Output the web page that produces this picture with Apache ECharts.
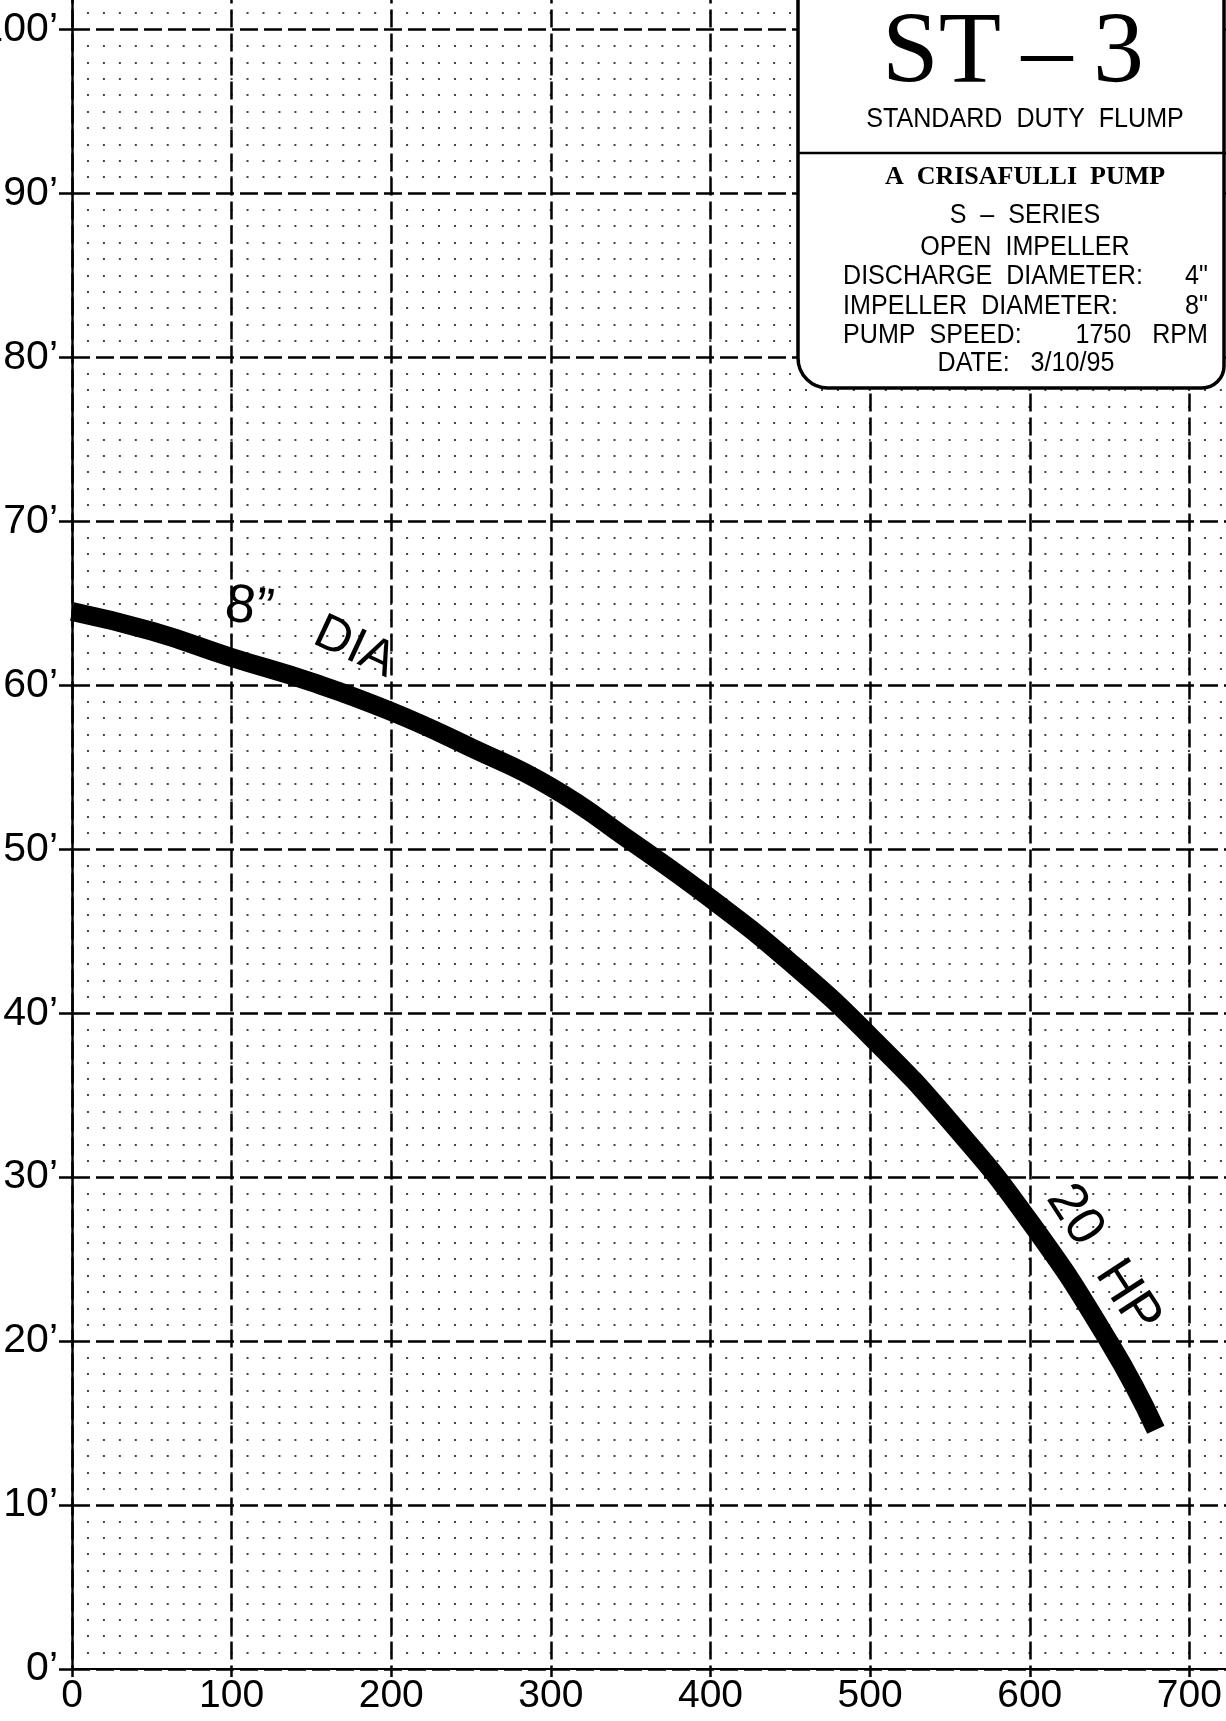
<!DOCTYPE html>
<html>
<head>
<meta charset="utf-8">
<script src="https://cdn.jsdelivr.net/npm/echarts@6/dist/echarts.min.js"></script>
<style>
  html, body { margin: 0; padding: 0; background: #fff; overflow: hidden; width: 1226px; height: 1721px; }
  /* the sheet is a crop: chart is a bit larger than the window, so the axes run past the edges */
  #chart { position: absolute; left: 0; top: -140px; width: 1349px; height: 1861px; }
</style>
</head>
<body>
<div id="chart"></div>
<script>
// flow (gpm) vs total head (feet)
const flow = [0, 50, 100, 150, 200, 250, 300, 350, 400, 450, 500, 550, 600, 650, 679];
const head = [64.5, 63.3, 61.7, 60.2, 58.4, 56.2, 53.8, 50.5, 47.0, 43.1, 38.6, 33.4, 27.3, 19.9, 14.6];

const flowTicks = [0, 100, 200, 300, 400, 500, 600, 700];
const headTicks = [0, 10, 20, 30, 40, 50, 60, 70, 80, 90, 100];

// curve labels, anchored in data units [flow, head]
const curveLabels = [
    { text: '8\u201d', at: [111, 64.7], rot: -8, size: 54 },
    { text: 'DIA', at: [177, 62.3], rot: -25, size: 50 },
    { text: '20  HP', at: [646, 25.0], rot: -57, size: 54 }
];

const boxTitle = 'ST\u2009\u2013\u20093';
const boxSubtitle = 'STANDARD  DUTY  FLUMP';
const boxMaker = 'A  CRISAFULLI  PUMP';
const boxCentered = ['S  \u2013  SERIES', 'OPEN  IMPELLER'];
const boxPairs = [
    ['DISCHARGE  DIAMETER:', '4"'],
    ['IMPELLER  DIAMETER:', '8"'],
    ['PUMP  SPEED:', '1750   RPM']
];
const boxDate = 'DATE:   3/10/95';

const SANS = '"Liberation Sans", Arial, sans-serif';
const SERIF = '"Liberation Serif", "Times New Roman", serif';

const chart = echarts.init(document.getElementById('chart'));

const dashed = { color: '#000', width: 2.5, type: [18, 6] };

chart.setOption({
    animation: false,
    backgroundColor: '#fff',
    grid: { left: 72, right: 0, top: 5.55, bottom: 52, containLabel: false, outerBoundsMode: 'none' },
    xAxis: {
        type: 'value',
        min: 0,
        max: 800,
        interval: 100,
        axisLine: { show: true, onZero: false, lineStyle: { color: '#000', width: 2 } },
        axisTick: { show: true, length: 8, lineStyle: { color: '#000', width: 2.5 } },
        axisLabel: {
            color: '#000',
            fontFamily: SANS,
            fontSize: 39,
            margin: 8,
            formatter: v => (flowTicks.includes(v) ? String(v) : '')
        },
        splitLine: { show: true, lineStyle: dashed },
        minorSplitLine: { show: false }
    },
    yAxis: {
        type: 'value',
        min: 0,
        max: 110,
        interval: 10,
        axisLine: { show: true, onZero: false, lineStyle: { color: '#000', width: 2.5 } },
        axisTick: { show: true, length: 13, lineStyle: { color: '#000', width: 2.5 } },
        axisLabel: {
            color: '#000',
            fontFamily: SANS,
            fontSize: 41,
            margin: 14,
            formatter: v => (headTicks.includes(v) ? v + '\u2019' : '')
        },
        splitLine: { show: true, lineStyle: dashed },
        minorTick: { show: false, splitNumber: 10 },
        // dotted rows: one dot every 10 gpm
        minorSplitLine: {
            show: true,
            lineStyle: { color: '#444', width: 1.8, type: [2, 13.957], dashOffset: 1 }
        }
    },
    series: [
        {
            type: 'line',
            data: flow.map((x, i) => [x, head[i]]),
            smooth: 0.5,
            showSymbol: false,
            symbol: 'none',
            lineStyle: { color: '#000', width: 19, cap: 'butt' },
            z: 5
        }
    ]
});

const txt = (text, x, y, size, family, align, extra) => Object.assign({
    type: 'text',
    x: x,
    y: y,
    z: 102,
    style: {
        text: text,
        fontSize: size,
        fontFamily: family,
        fill: '#000',
        align: align,
        textAlign: align,
        verticalAlign: 'middle',
        textVerticalAlign: 'middle'
    }
}, extra || {});

const graphics = [];

curveLabels.forEach(l => {
    const p = chart.convertToPixel({ gridIndex: 0 }, l.at);
    graphics.push(txt(l.text, p[0], p[1], l.size, SANS, 'center', { rotation: l.rot * Math.PI / 180 }));
});

// info box, laid out in window coordinates (group shifted by the container offset)
const maker = txt(boxMaker, 1025, 177, 26, SERIF, 'center');
maker.style.fontWeight = 'bold';

const boxKids = [
    {
        type: 'rect',
        z: 100,
        shape: { x: 798, y: -60, width: 426, height: 448, r: [0, 0, 22, 30] },
        style: { fill: '#fff', stroke: '#000', lineWidth: 3.5 }
    },
    {
        type: 'line',
        z: 101,
        shape: { x1: 798, y1: 153, x2: 1226, y2: 153 },
        style: { stroke: '#000', lineWidth: 2.5 }
    },
    txt(boxTitle, 1013, 55, 102, SERIF, 'center'),
    txt(boxSubtitle, 1025, 120, 27, SANS, 'center', { scaleX: 0.93 }),
    maker,
    txt(boxCentered[0], 1025, 216, 27, SANS, 'center', { scaleX: 0.93 }),
    txt(boxCentered[1], 1025, 248, 27, SANS, 'center', { scaleX: 0.93 }),
    txt(boxDate, 1026, 364, 27, SANS, 'center', { scaleX: 0.93 })
];

boxPairs.forEach((pair, i) => {
    const y = 277 + i * 29.5;
    boxKids.push(txt(pair[0], 843, y, 27, SANS, 'left', { scaleX: 0.93 }));
    boxKids.push(txt(pair[1], 1208, y, 27, SANS, 'right', { scaleX: 0.93 }));
});

graphics.push({ type: 'group', x: 0, y: 140, children: boxKids });

chart.setOption({ graphic: graphics });
</script>
</body>
</html>
